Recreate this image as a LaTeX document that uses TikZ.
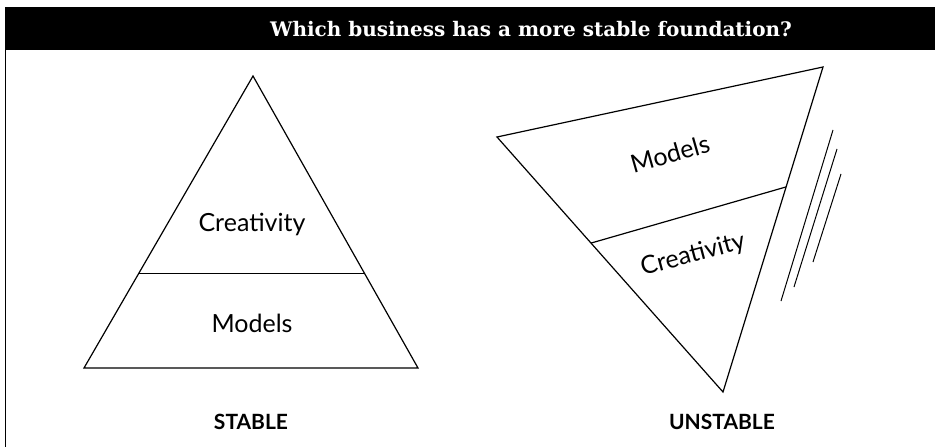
\documentclass[tikz,border=0pt]{standalone}
\usepackage{fontspec}
\setmainfont{Lato}
\newfontfamily\headfont{DejaVu Serif}
\usetikzlibrary{calc}
\begin{document}
\begin{tikzpicture}[x=1pt,y=-1pt,
    edge/.style={black,line width=1.2pt,line join=miter},
    layer/.style={font=\fontsize{25}{28}\selectfont,inner sep=1pt},
    verdict/.style={font=\bfseries\fontsize{21}{24}\selectfont,anchor=base}]
      \useasboundingbox (0,0) rectangle (935,447);

      % header bar and frame
      \fill[black] (5,7) rectangle (935,50);
      \node[white,anchor=base,font=\headfont\bfseries\fontsize{20}{24}\selectfont] (title) at (531,36) {Which business has a more stable foundation?};
      \draw[line width=1pt] (5.5,50) -- (5.5,447);

      % stable pyramid
      \coordinate (apexL) at (253,76);
      \coordinate (baseLl) at (84,368);
      \coordinate (baseLr) at (418,368);
      \draw[edge] (apexL) -- (baseLr) -- (baseLl) -- cycle;
      \draw[edge] ($(apexL)!0.675!(baseLl)$) -- ($(apexL)!0.675!(baseLr)$);
      \node[layer,anchor=base] (creaL) at (252,231) {Creativity};
      \node[layer,anchor=base] (modL) at (252,332) {Models};
      \node[verdict] (stable) at (251,429) {STABLE};

      % unstable pyramid
      \coordinate (cornR) at (497,137);
      \coordinate (topR) at (823,67);
      \coordinate (tipR) at (723,392);
      \draw[edge] (cornR) -- (topR) -- (tipR) -- cycle;
      \draw[edge] ($(cornR)!0.416!(tipR)$) -- ($(topR)!0.369!(tipR)$);
      \node[layer,rotate=16] (modR) at (670,154) {Models};
      \node[layer,rotate=15] (creaR) at (693,255) {Creativity};
      \node[verdict] (unstable) at (722,429) {UNSTABLE};

      % crack lines
      \draw[line width=1pt] (781,301) -- (833,130);
      \draw[line width=1pt] (794,287) -- (837,149);
      \draw[line width=1pt] (813,262) -- (841,174);
\end{tikzpicture}
\end{document}
